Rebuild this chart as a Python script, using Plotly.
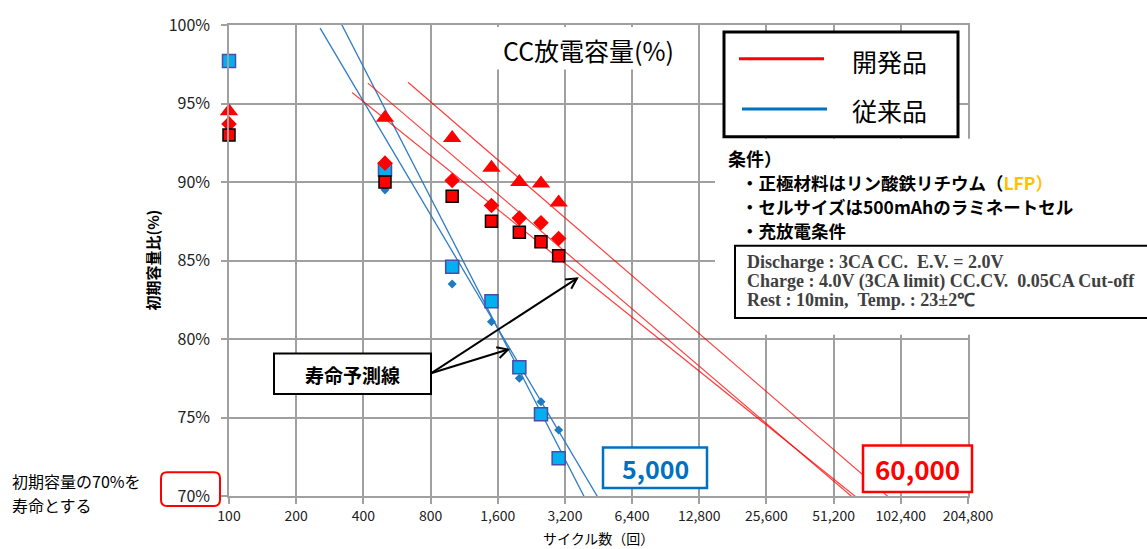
import math
import plotly.graph_objects as go

# ---------------- data ----------------
cycles = [100, 500, 1000, 1500, 2000, 2500, 3000]
dev_triangle = [94.5, 94.1, 92.8, 90.9, 90.0, 89.9, 88.7]
dev_diamond = [93.7, 91.2, 90.1, 88.5, 87.7, 87.4, 86.4]
dev_square = [93.0, 90.0, 89.1, 87.5, 86.8, 86.2, 85.3]
conv_square = [97.7, 90.8, 84.6, 82.4, 78.2, 75.2, 72.4]
conv_diamond = [None, 89.5, 83.5, 81.1, 77.5, 76.0, 74.2]

# life prediction lines (start / end)
dev_line_cycles = [[356, 65000], [419, 63700], [634, 94300]]
dev_line_pct = [[95.7, 69.9], [96.3, 69.8], [96.35, 69.7]]
conv_line_cycles = [[256, 4590], [318, 4140]]
conv_line_pct = [[99.8, 69.7], [100.1, 69.25]]

x_ticks = [100, 200, 400, 800, 1600, 3200, 6400, 12800, 25600, 51200, 102400, 204800]
x_tick_labels = ["100", "200", "400", "800", "1,600", "3,200", "6,400", "12,800",
                 "25,600", "51,200", "102,400", "204,800"]
y_ticks = [70, 75, 80, 85, 90, 95, 100]
y_tick_labels = ["70%", "75%", "80%", "85%", "90%", "95%", "100%"]

# ---------------- geometry helpers ----------------
W, H = 1147, 549
L, R, T, B = 229, 968, 20, 496


def fx(x):
    return (x - L) / (R - L)


def fy(y):
    return (B - y) / (B - T)


FONT = "Noto Sans CJK JP"
GRID = "#A0A0A0"

fig = go.Figure()

for cyc, pct in zip(conv_line_cycles, conv_line_pct):
    fig.add_trace(go.Scatter(x=cyc, y=pct, mode="lines",
                             line=dict(color="#2E7CC4", width=1.3),
                             hoverinfo="skip", showlegend=False))
for cyc, pct in zip(dev_line_cycles, dev_line_pct):
    fig.add_trace(go.Scatter(x=cyc, y=pct, mode="lines",
                             line=dict(color="rgba(255,0,0,0.75)", width=1.2),
                             hoverinfo="skip", showlegend=False))

fig.add_trace(go.Scatter(x=cycles, y=conv_square, mode="markers", cliponaxis=False,
                         marker=dict(symbol="square", size=13, color="#00B0F0",
                                     line=dict(color="#4B4BA8", width=1.5)),
                         showlegend=False))
fig.add_trace(go.Scatter(x=cycles, y=conv_diamond, mode="markers", cliponaxis=False,
                         marker=dict(symbol="diamond", size=7, color="#1F7BC1"),
                         showlegend=False))
fig.add_trace(go.Scatter(x=cycles, y=dev_triangle, mode="markers", cliponaxis=False,
                         marker=dict(symbol="triangle-up", size=16, color="#FF0000"),
                         showlegend=False))
fig.add_trace(go.Scatter(x=cycles, y=dev_diamond, mode="markers", cliponaxis=False,
                         marker=dict(symbol="diamond", size=12, color="#FF0000"),
                         showlegend=False))
fig.add_trace(go.Scatter(x=cycles, y=dev_square, mode="markers", cliponaxis=False,
                         marker=dict(symbol="square", size=12, color="#FF0000",
                                     line=dict(color="#000000", width=1.5)),
                         showlegend=False))

shapes = []


def rect(x0, y0, x1, y1, color=None, width=0, fill="white", layer="above"):
    shapes.append(dict(type="rect", xref="paper", yref="paper",
                       x0=fx(x0), x1=fx(x1), y0=fy(y1), y1=fy(y0),
                       line=dict(color=color or "rgba(0,0,0,0)", width=width),
                       fillcolor=fill, layer=layer))


def seg(x0, y0, x1, y1, color, width):
    shapes.append(dict(type="line", xref="paper", yref="paper",
                       x0=fx(x0), y0=fy(y0), x1=fx(x1), y1=fy(y1),
                       line=dict(color=color, width=width), layer="above"))


def arrow(x0, y0, x1, y1, size=12, ang=28):
    seg(x0, y0, x1, y1, "black", 2)
    dx, dy = x0 - x1, y0 - y1
    n = math.hypot(dx, dy)
    dx, dy = dx / n, dy / n
    pts = []
    for s in (1, -1):
        a = math.radians(ang) * s
        rx = dx * math.cos(a) - dy * math.sin(a)
        ry = dx * math.sin(a) + dy * math.cos(a)
        pts.append((x1 + size * rx, y1 + size * ry))
    path = "M {} {} L {} {} L {} {}".format(fx(pts[0][0]), fy(pts[0][1]), fx(x1), fy(y1),
                                            fx(pts[1][0]), fy(pts[1][1]))
    shapes.append(dict(type="path", xref="paper", yref="paper", path=path,
                       line=dict(color="black", width=2), layer="above"))


# white areas behind texts
rect(445, 22, 690, 65)
rect(715, 135, 1160, 333)
# legend box
rect(724, 27, 958, 133, color="black", width=3)
seg(739, 54, 824, 54, "#FF0000", 3)
seg(742, 105, 827, 105, "#0070C0", 3)
# conditions box
rect(735, 243, 1170, 316, color="black", width=2)
# prediction line label box
rect(274, 352, 431, 393, color="black", width=2)
arrow(431, 372, 577, 276)
arrow(431, 372, 508, 348)
# result boxes
rect(603, 447, 707, 488, color="#0070C0", width=2.5)
rect(863, 445, 972, 492, color="#FF0000", width=2.5)
# rounded red box around 70%
x0, y0, x1, y1, r = 161, 472, 220, 506, 6
path = ("M {a} {b} L {c} {b} Q {x1} {b} {x1} {d} L {x1} {e} Q {x1} {f} {c} {f} "
        "L {a} {f} Q {x0} {f} {x0} {e} L {x0} {d} Q {x0} {b} {a} {b} Z").format(
    a=fx(x0 + r), b=fy(y0), c=fx(x1 - r), d=fy(y0 + r), e=fy(y1 - r), f=fy(y1),
    x0=fx(x0), x1=fx(x1))
shapes.append(dict(type="path", xref="paper", yref="paper", path=path,
                   line=dict(color="#FF0000", width=2), layer="above"))

annotations = []


def text(x, y, s, size, color="black", bold=False, xanchor="center", family=FONT,
         angle=0, align="center"):
    if bold:
        s = "<b>" + s + "</b>"
    annotations.append(dict(xref="paper", yref="paper", x=fx(x), y=fy(y), text=s,
                            showarrow=False, xanchor=xanchor, yanchor="middle",
                            textangle=angle, align=align, borderpad=0,
                            font=dict(family=family, size=size, color=color)))


text(588, 45, "CC放電容量(%)", 25)
text(889, 56, "開発品", 25)
text(889, 106, "従来品", 25)
text(727, 154, "条件）", 18, bold=True, xanchor="left")
text(740, 179, "・正極材料はリン酸鉄リチウム（<span style='color:#FFC000'>LFP）</span>", 17.5,
     bold=True, xanchor="left")
text(740, 203, "・セルサイズは500mAhのラミネートセル", 17.5, bold=True, xanchor="left")
text(740, 228, "・充放電条件", 17.5, bold=True, xanchor="left")
serif = "Liberation Serif"
text(746, 260, "Discharge : 3CA CC.&nbsp;&nbsp;E.V. = 2.0V", 18, color="#404040", bold=True,
     xanchor="left", family=serif)
text(746, 279, "Charge : 4.0V (3CA limit) CC.CV.&nbsp;&nbsp;0.05CA Cut-off", 18,
     color="#404040", bold=True, xanchor="left", family=serif)
text(746, 298, "Rest : 10min,&nbsp;&nbsp;Temp. : 23±2℃", 18, color="#404040", bold=True,
     xanchor="left", family=serif)
text(352, 373, "寿命予測線", 19, bold=True)
text(655, 468, "5,000", 25, color="#0070C0", bold=True)
text(917, 468, "60,000", 26, color="#FF0000", bold=True)
text(152, 258, "初期容量比(%)", 15, angle=-90, bold=True)
text(598, 538, "サイクル数（回）", 14)
text(11, 481, "初期容量の70%を", 16, xanchor="left")
text(11, 505, "寿命とする", 16, xanchor="left")

axis_common = dict(showgrid=True, gridcolor=GRID, gridwidth=1.5, showline=True,
                   linecolor=GRID, linewidth=1.5, mirror=True, ticks="outside",
                   ticklen=6, tickcolor=GRID, tickwidth=1.5, zeroline=False)

fig.update_layout(
    width=W, height=H, autosize=False,
    margin=dict(l=L, r=W - R, t=T, b=H - B),
    plot_bgcolor="white", paper_bgcolor="white",
    font=dict(family=FONT, color="#222222"),
    xaxis=dict(type="log", range=[2, math.log10(204800)], tickmode="array",
               tickvals=x_ticks, ticktext=x_tick_labels,
               tickfont=dict(size=14, color="#222222"), **axis_common),
    yaxis=dict(range=[70, 100], tickmode="array", tickvals=y_ticks,
               ticktext=y_tick_labels, tickfont=dict(size=16, color="#222222"),
               ticklabelstandoff=8, **axis_common),
    shapes=shapes,
    annotations=annotations,
    showlegend=False,
)

fig.write_html("out.html", config={"displayModeBar": False},
               post_script="document.body.style.margin='0px';document.body.style.padding='0px';")
